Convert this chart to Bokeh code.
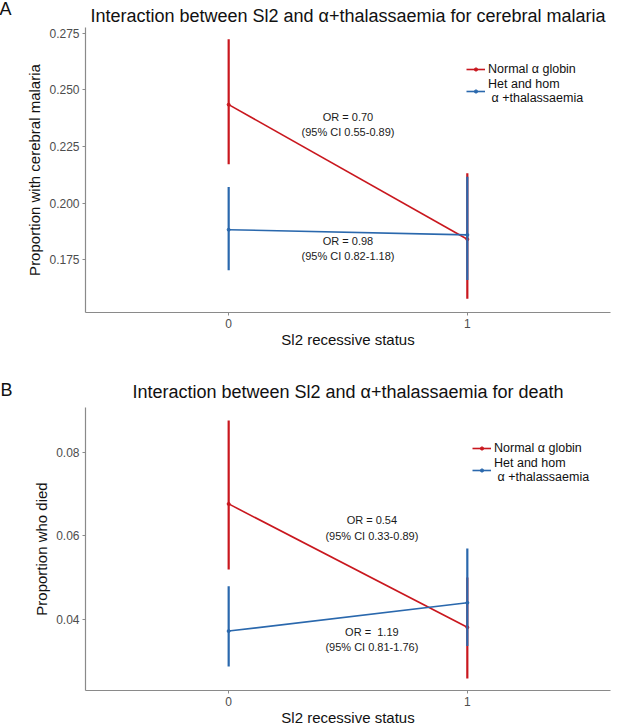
from bokeh.plotting import figure
from bokeh.models import (ColumnDataSource, Range1d, FixedTicker, PrintfTickFormatter,
                          Legend, LegendItem, Label, Title)
from bokeh.layouts import column
from bokeh.core.properties import value
from bokeh.embed import file_html
from bokeh.resources import INLINE

# ---------------- data ----------------
status = [0, 1]
status_ticks = [0, 1]

# Panel A: cerebral malaria
cm_normal = [0.2435, 0.1840]
cm_normal_lo = [0.2171, 0.1577]
cm_normal_hi = [0.2724, 0.2132]
cm_thal = [0.1882, 0.1859]
cm_thal_lo = [0.1703, 0.1660]
cm_thal_hi = [0.2071, 0.2116]
cm_ticks = [0.175, 0.200, 0.225, 0.250, 0.275]
cm_or_text = ["OR = 0.70", "(95% CI 0.55-0.89)", "OR = 0.98", "(95% CI 0.82-1.18)"]
cm_or_x = [0.5, 0.5, 0.5, 0.5]
cm_or_y = [0.2381, 0.2316, 0.1831, 0.1768]

# Panel B: death
d_normal = [0.0677, 0.0380]
d_normal_lo = [0.0519, 0.0257]
d_normal_hi = [0.0878, 0.0500]
d_thal = [0.0371, 0.0439]
d_thal_lo = [0.0286, 0.0335]
d_thal_hi = [0.0479, 0.0570]
d_ticks = [0.04, 0.06, 0.08]
d_or_text = ["OR = 0.54", "(95% CI 0.33-0.89)", "OR =\u00a0 1.19", "(95% CI 0.81-1.76)"]
d_or_x = [0.6, 0.6, 0.6, 0.6]
d_or_y = [0.0638, 0.0600, 0.0368, 0.0333]

series_names = ["Normal \u03b1 globin", "Het and hom\n \u03b1 +thalassaemia"]

RED = "#C9171E"
BLUE = "#2A68AD"
FONT = "Liberation Sans"
AXIS_COL = "#8a8a8a"


def make_panel(height, border_top, border_bottom, border_right, yr, ticks, fmt, ylabel,
               title, title_valign, title_standoff, normal, nlo, nhi, thal, tlo, thi,
               ortext, orx, ory, legend_loc, letter, letter_xy):
    p = figure(width=617, height=height, output_backend="svg", toolbar_location=None,
               x_range=Range1d(-0.6, 1.6), y_range=Range1d(*yr),
               min_border_left=85, min_border_right=border_right,
               min_border_top=border_top, min_border_bottom=border_bottom)
    p.outline_line_color = None
    p.grid.visible = False
    p.background_fill_color = "white"
    p.border_fill_color = "white"

    p.title = Title(text=title, align="center", vertical_align=title_valign,
                    text_font=FONT, text_font_size="18px",
                    text_font_style="normal", text_color="#111111", standoff=title_standoff)

    for ax in (p.xaxis[0], p.yaxis[0]):
        ax.axis_line_color = AXIS_COL
        ax.axis_line_width = 1.2
        ax.major_tick_line_color = AXIS_COL
        ax.major_tick_out = 3
        ax.major_tick_in = 0
        ax.minor_tick_line_color = None
        ax.major_label_text_color = "#4d4d4d"
        ax.major_label_text_font = FONT
        ax.major_label_text_font_size = "12px"
        ax.axis_label_text_font = FONT
        ax.axis_label_text_font_size = "15px"
        ax.axis_label_text_font_style = "normal"
        ax.axis_label_text_color = "#111111"
        ax.major_label_standoff = 3
        ax.axis_label_standoff = 0

    p.xaxis.ticker = FixedTicker(ticks=status_ticks)
    p.xaxis.axis_label = "Sl2 recessive status"
    p.yaxis.ticker = FixedTicker(ticks=ticks)
    p.yaxis.formatter = PrintfTickFormatter(format=fmt)
    p.yaxis.axis_label = ylabel
    p.yaxis.axis_label_standoff = 3

    items = []
    for vals, lo, hi, col, name in ((normal, nlo, nhi, RED, series_names[0]),
                                    (thal, tlo, thi, BLUE, series_names[1])):
        src = ColumnDataSource(dict(x=status, y=vals, lo=lo, hi=hi))
        p.segment(x0="x", y0="lo", x1="x", y1="hi", source=src, line_color=col, line_width=2.2)
        ln = p.line(x="x", y="y", source=src, line_color=col, line_width=1.6)
        sc = p.scatter(x="x", y="y", source=src, size=3, fill_color=col, line_color=col)
        items.append(LegendItem(label=name, renderers=[ln, sc]))

    tsrc = ColumnDataSource(dict(x=orx, y=ory, t=ortext))
    p.text(x="x", y="y", text="t", source=tsrc, text_font=value(FONT), text_font_size="11px",
           text_align="center", text_baseline="middle", text_color="#1a1a1a")

    leg = Legend(items=items, location=legend_loc)
    leg.border_line_color = None
    leg.background_fill_alpha = 0
    leg.padding = 0
    leg.margin = 0
    leg.spacing = 1
    leg.glyph_width = 19
    leg.glyph_height = 8
    leg.label_height = 14
    leg.label_standoff = 3
    leg.label_text_font = FONT
    leg.label_text_font_size = "12.5px"
    leg.label_text_color = "#111111"
    p.add_layout(leg)

    # panel letter, placed in the left side panel so it is not clipped by the frame
    p.add_layout(Label(x=letter_xy[0], y=letter_xy[1], x_units="screen", y_units="screen",
                       text=letter, text_font=FONT, text_font_size="18px", text_align="left",
                       text_baseline="top", text_color="#111111"), "left")
    return p


pA = make_panel(360, 27, 48, 7, (0.1516, 0.2776), cm_ticks, "%.3f",
                "Proportion with cerebral malaria",
                "Interaction between Sl2 and \u03b1+thalassaemia for cerebral malaria",
                "top", 0,
                cm_normal, cm_normal_lo, cm_normal_hi, cm_thal, cm_thal_lo, cm_thal_hi,
                cm_or_text, cm_or_x, cm_or_y, (381, 207), "A", (-12, 314))

pB = make_panel(368, 47, 36, 1, (0.0228, 0.0909), d_ticks, "%.2f",
                "Proportion who died",
                "Interaction between Sl2 and \u03b1+thalassaemia for death",
                "bottom", 12,
                d_normal, d_normal_lo, d_normal_hi, d_thal, d_thal_lo, d_thal_hi,
                d_or_text, d_or_x, d_or_y, (387, 206), "B", (-18, 311))

layout = column(pA, pB, spacing=0)
open("out.html", "w").write(file_html(layout, INLINE))
